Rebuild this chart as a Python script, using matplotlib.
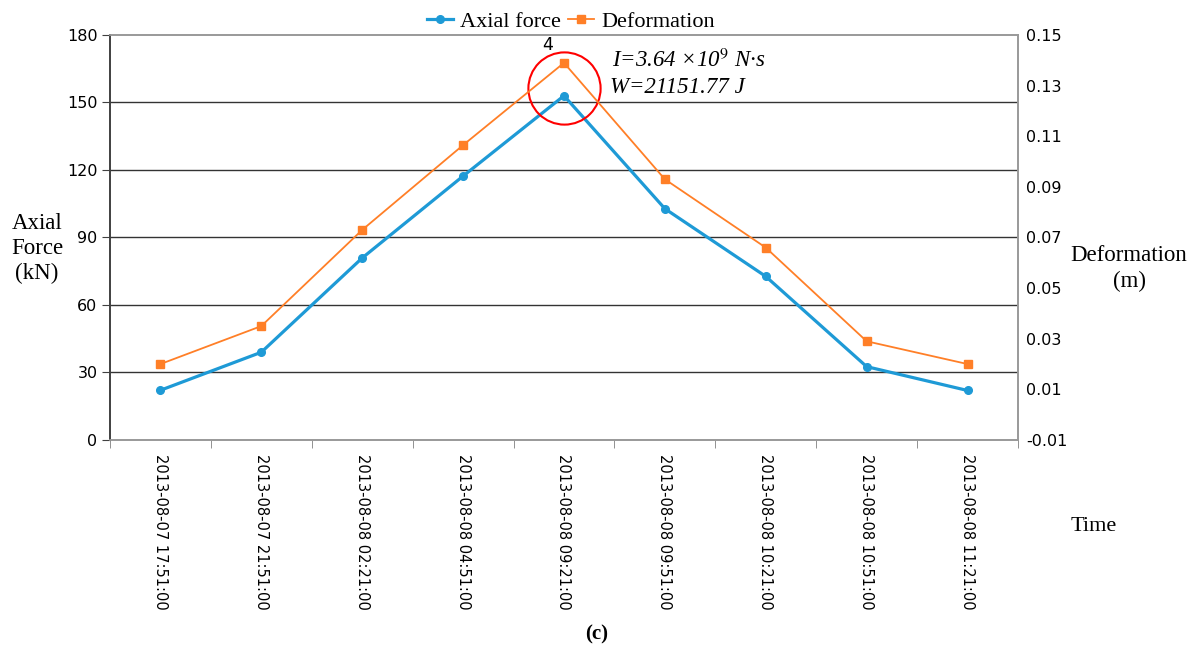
import matplotlib as mpl
from matplotlib import pyplot as plt
import numpy as np

mpl.rcParams['font.family'] = 'DejaVu Sans'
mpl.rcParams['mathtext.fontset'] = 'stix'

# Данные
times = ['2013-08-07 17:51:00', '2013-08-07 21:51:00', '2013-08-08 02:21:00',
         '2013-08-08 04:51:00', '2013-08-08 09:21:00', '2013-08-08 09:51:00',
         '2013-08-08 10:21:00', '2013-08-08 10:51:00', '2013-08-08 11:21:00']
axial_force = [22.1, 39.0, 80.9, 117.3, 153.0, 102.8, 72.7, 32.6, 22.0]
deformation = [0.020, 0.035, 0.073, 0.1065, 0.139, 0.093, 0.066, 0.029, 0.020]
left_ticks = [0, 30, 60, 90, 120, 150, 180]
right_ticks = [-0.01, 0.01, 0.03, 0.05, 0.07, 0.09, 0.11, 0.13, 0.15]

blue = '#1E9AD6'
orange = '#FF7F27'
serif = 'Liberation Serif'

x = np.arange(len(times))

fig = plt.figure(figsize=(11.94, 6.53), dpi=100)
ax = fig.add_axes([0.0921, 0.3262, 0.7605, 0.6202])
ax2 = ax.twinx()

# Сетка
for v in left_ticks[1:-1]:
    ax.axhline(v, color='#333333', lw=1.0, zorder=0)

l1, = ax.plot(x, axial_force, '-o', color=blue, lw=2.3, ms=5.5, label='Axial force', zorder=3)
l2, = ax2.plot(x, deformation, '-s', color=orange, lw=1.3, ms=5.5, label='Deformation', zorder=3)

ax.set_xlim(-0.5, len(times) - 0.5)
ax.set_ylim(0, 180)
ax2.set_ylim(-0.01, 0.15)

ax.set_yticks(left_ticks)
ax.set_yticklabels([str(v) for v in left_ticks], fontsize=11.5)
ax2.set_yticks(right_ticks)
ax2.set_yticklabels([f'{v:.2f}' for v in right_ticks], fontsize=11.5)

ax.set_xticks(x)
ax.set_xticklabels(times, rotation=270, fontsize=10.5, va='top', ha='center')
ax.set_xticks(np.arange(-0.5, len(times)), minor=True)
ax.tick_params(axis='x', which='major', length=0, pad=10)
ax.tick_params(axis='x', which='minor', length=6, color='#808080')
ax.tick_params(axis='y', length=6, color='#404040', pad=3)
ax2.tick_params(axis='y', length=0, pad=6)

for a in (ax, ax2):
    a.spines['top'].set_color('#999999')
    a.spines['bottom'].set_color('#999999')
    a.spines['right'].set_color('#999999')
    a.spines['left'].set_color('#404040')
    for s in a.spines.values():
        s.set_linewidth(1.2)

# Подписи осей
fig.text(0.031, 0.62, 'Axial\nForce\n(kN)', family=serif, fontsize=16.5,
         ha='center', va='center', linespacing=1.25)
fig.text(0.9456, 0.589, 'Deformation\n(m)', family=serif, fontsize=16.5,
         ha='center', va='center', linespacing=1.3)
fig.text(0.916, 0.194, 'Time', family=serif, fontsize=16, ha='center', va='center')
fig.text(0.5, 0.029, '(c)', family=serif, fontsize=15, weight='bold', ha='center', va='center')

# Выделение пика
peak = int(np.argmax(axial_force))
ax.plot(peak, 156.5, 'o', ms=52, mfc='none', mec='red', mew=1.5, zorder=4)
ax.text(peak - 0.16, 175.5, '4', fontsize=12.5, ha='center', va='center')
ax.text(peak + 0.48, 168.6, r'I=3.64 ×10$^{\mathit{9}}$ N·s', family=serif, style='italic',
        fontsize=16.5, ha='left', va='center')
ax.text(peak + 0.46, 156.5, 'W=21151.77 J', family=serif, style='italic',
        fontsize=16.5, ha='left', va='center')

# Легенда
fig.legend(handles=[l1, l2], loc='center', bbox_to_anchor=(0.478, 0.967), ncol=2,
           frameon=False, prop={'family': serif, 'size': 16}, handlelength=1.2,
           handletextpad=0.3, columnspacing=0.3)

plt.savefig('out.png', dpi=100)
